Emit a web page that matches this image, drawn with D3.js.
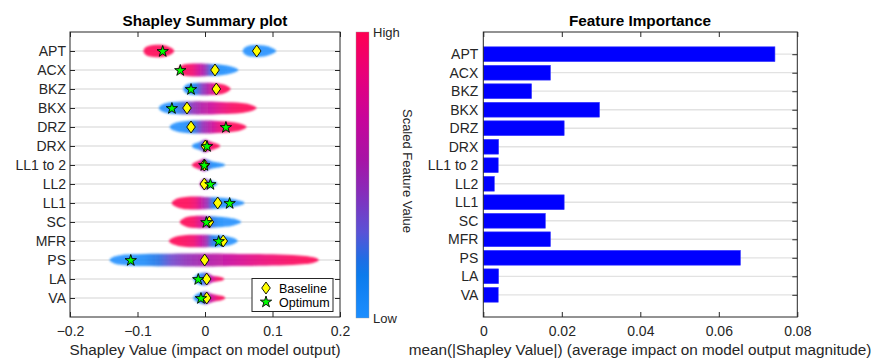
<!DOCTYPE html>
<html><head><meta charset="utf-8">
<script src="https://cdn.jsdelivr.net/npm/d3@7"></script>
<style>
body{margin:0;background:#fff;}
text{font-family:"Liberation Sans",Arial,sans-serif;}
</style></head>
<body><svg id="c" width="876" height="358"></svg>
<script>
// ---------- DATA ----------
const features = ["APT","ACX","BKZ","BKX","DRZ","DRX","LL1 to 2","LL2","LL1","SC","MFR","PS","LA","VA"];
const importance = [0.0743,0.0171,0.0123,0.0296,0.0206,0.0039,0.0038,0.0028,0.0206,0.0158,0.0171,0.0655,0.0039,0.0038];
const baseline = [0.0766,0.0148,0.0168,-0.0267,-0.0207,0.0005,-0.001,-0.001,0.0188,0.0064,0.027,-0.0005,0.0025,0.0025];
const optimum  = [-0.0627,-0.0366,-0.0207,-0.049,0.031,0.003,-0.001,0.008,0.0365,0.002,0.0203,-0.11,-0.01,-0.006];
const xTicksLeft = [-0.2,-0.1,0,0.1,0.2];
const xTicksRight = [0,0.02,0.04,0.06,0.08];
const legendLabels = ["Baseline","Optimum"];
const colorbarLabels = ["High","Low"];

// cloud outlines read from the beeswarm: [shap value, half thickness (rows), scaled feature value]
const cloudAPT = [
 [[-0.091,0.06,1],[-0.088,0.22,1],[-0.082,0.3,1],[-0.072,0.33,1],[-0.062,0.32,1],[-0.055,0.26,1],[-0.049,0.15,1],[-0.046,0.05,1]],
 [[0.056,0.05,0],[0.059,0.2,0],[0.066,0.3,0],[0.078,0.32,0],[0.09,0.28,0],[0.099,0.18,0],[0.105,0.05,0]]
];
const cloudACX = [[[-0.040,0.08,1],[-0.036,0.24,1],[-0.028,0.32,0.97],[-0.018,0.34,0.9],[-0.008,0.34,0.7],[0.0,0.33,0.5],[0.008,0.32,0.25],[0.016,0.3,0.06],[0.027,0.27,0.02],[0.038,0.2,0],[0.045,0.12,0],[0.049,0.04,0]]];
const cloudBKZ = [[[-0.032,0.07,0],[-0.029,0.22,0.02],[-0.022,0.3,0.05],[-0.014,0.32,0.15],[-0.005,0.33,0.4],[0.003,0.33,0.55],[0.012,0.32,0.8],[0.02,0.3,0.95],[0.028,0.24,1],[0.034,0.14,1],[0.0375,0.05,1]]];
const cloudBKX = [[[-0.068,0.06,0],[-0.064,0.2,0],[-0.056,0.28,0],[-0.045,0.32,0.05],[-0.032,0.34,0.25],[-0.018,0.35,0.45],[-0.004,0.35,0.6],[0.01,0.34,0.72],[0.025,0.32,0.85],[0.04,0.3,0.95],[0.055,0.26,1],[0.066,0.2,1],[0.072,0.12,1],[0.076,0.04,1]]];
const cloudDRZ = [[[-0.052,0.06,0],[-0.048,0.18,0],[-0.04,0.26,0],[-0.028,0.32,0.05],[-0.016,0.34,0.2],[-0.004,0.34,0.45],[0.008,0.34,0.65],[0.02,0.32,0.85],[0.032,0.3,0.95],[0.045,0.25,1],[0.055,0.16,1],[0.061,0.05,1]]];
const cloudDRX = [[[-0.019,0.05,0],[-0.016,0.14,0],[-0.01,0.18,0.05],[-0.004,0.28,0.3],[0,0.36,0.55],[0.004,0.3,0.75],[0.01,0.2,0.95],[0.016,0.15,1],[0.022,0.05,1]]];
const cloudLL12 = [[[-0.019,0.05,1],[-0.016,0.14,1],[-0.01,0.2,0.95],[-0.005,0.3,0.7],[-0.001,0.36,0.5],[0.004,0.28,0.25],[0.01,0.18,0.05],[0.02,0.14,0],[0.029,0.05,0]]];
const cloudLL2 = [[[-0.0075,0.05,0.7],[-0.005,0.2,0.6],[-0.001,0.3,0.5],[0.004,0.25,0.35],[0.009,0.16,0.15],[0.014,0.12,0.05],[0.018,0.04,0]]];
const cloudLL1 = [[[-0.049,0.06,1],[-0.045,0.18,1],[-0.038,0.28,1],[-0.026,0.34,1],[-0.014,0.35,0.9],[-0.004,0.33,0.65],[0.004,0.32,0.45],[0.012,0.3,0.15],[0.024,0.27,0.03],[0.036,0.24,0],[0.047,0.18,0],[0.054,0.1,0],[0.058,0.04,0]]];
const cloudSC = [[[-0.037,0.06,1],[-0.033,0.18,1],[-0.026,0.28,1],[-0.016,0.33,0.95],[-0.006,0.33,0.75],[0.002,0.32,0.5],[0.01,0.3,0.2],[0.02,0.28,0.03],[0.032,0.25,0],[0.043,0.18,0],[0.049,0.1,0],[0.053,0.04,0]]];
const cloudMFR = [[[-0.053,0.06,1],[-0.048,0.18,1],[-0.04,0.26,1],[-0.028,0.32,0.97],[-0.016,0.34,0.9],[-0.006,0.33,0.7],[0.002,0.33,0.5],[0.01,0.32,0.2],[0.02,0.3,0.05],[0.032,0.26,0],[0.042,0.18,0],[0.048,0.05,0]]];
const cloudPS = [[[-0.141,0.05,0],[-0.136,0.18,0],[-0.126,0.26,0],[-0.11,0.3,0],[-0.09,0.32,0.05],[-0.07,0.33,0.2],[-0.05,0.33,0.35],[-0.03,0.34,0.45],[-0.01,0.34,0.52],[0.01,0.34,0.6],[0.03,0.33,0.68],[0.05,0.32,0.75],[0.07,0.31,0.82],[0.09,0.3,0.88],[0.11,0.29,0.93],[0.13,0.27,0.97],[0.15,0.22,1],[0.162,0.14,1],[0.168,0.05,1]]];
const cloudLA = [[[-0.017,0.06,0],[-0.013,0.22,0],[-0.006,0.32,0.05],[0.001,0.36,0.3],[0.006,0.28,0.5],[0.01,0.18,0.7],[0.016,0.14,0.9],[0.023,0.12,1],[0.028,0.04,1]]];
const cloudVA = [[[-0.017,0.06,0],[-0.013,0.2,0],[-0.006,0.3,0.1],[0.001,0.36,0.35],[0.006,0.28,0.55],[0.011,0.2,0.75],[0.018,0.16,0.92],[0.025,0.12,1],[0.0296,0.04,1]]];
const clouds = [cloudAPT,cloudACX,cloudBKZ,cloudBKX,cloudDRZ,cloudDRX,cloudLL12,cloudLL2,cloudLL1,cloudSC,cloudMFR,cloudPS,cloudLA,cloudVA];

// ---------- SETUP ----------
const svg = d3.select("#c");
const defs = svg.append("defs");
const axisCol = "#262626";
const cmap = d3.scaleLinear()
  .domain([0,0.17,0.3,0.45,0.55,0.7,0.85,1])
  .range(["#1c8eff","#0a78ea","#5a52d6","#8a2ab8","#a614a6","#c8049a","#e8007a","#ff0052"])
  .interpolate(d3.interpolateRgb);

defs.append("filter").attr("id","soft").attr("x","-10%").attr("y","-50%").attr("width","120%").attr("height","200%")
  .append("feGaussianBlur").attr("stdDeviation",0.8);

// ---------- LEFT PLOT ----------
const xL = d3.scaleLinear().domain([-0.2,0.2]).range([70,340]);
const yL = d3.scaleLinear().domain([-1,14]).range([32,317]);
const stepL = yL(1)-yL(0);
const gL = svg.append("g");

gL.selectAll("line.grid").data(features).join("line")
  .attr("x1",xL(-0.2)).attr("x2",xL(0.2))
  .attr("y1",(d,i)=>yL(i)).attr("y2",(d,i)=>yL(i))
  .attr("stroke","#e2e2e2").attr("stroke-width",1.3);

const area = d3.area().curve(d3.curveBasis);
const gc = gL.append("g").attr("filter","url(#soft)");
clouds.forEach((blobs,i)=>{
  blobs.forEach((pts,j)=>{
    const id = "g"+i+"_"+j;
    const x1 = xL(pts[0][0]), x2 = xL(pts[pts.length-1][0]);
    const lg = defs.append("linearGradient").attr("id",id).attr("gradientUnits","userSpaceOnUse")
      .attr("x1",x1).attr("x2",x2).attr("y1",0).attr("y2",0);
    pts.forEach(p=>lg.append("stop").attr("offset",(xL(p[0])-x1)/(x2-x1)).attr("stop-color",cmap(p[2])));
    area.x(p=>xL(p[0])).y0(p=>yL(i)-p[1]*stepL).y1(p=>yL(i)+p[1]*stepL);
    gc.append("path").attr("d",area(pts)).attr("fill","url(#"+id+")").attr("fill-opacity",0.88);
  });
});

const diamond = "M0,-6L4.3,0L0,6L-4.3,0Z";
const star = d3.symbol().type(d3.symbolStar).size(40)();
gL.selectAll("path.bl").data(baseline).join("path")
  .attr("d",diamond).attr("transform",(d,i)=>`translate(${xL(d)},${yL(i)})`)
  .attr("fill","#ffff00").attr("stroke","#000").attr("stroke-width",0.9);
gL.selectAll("path.op").data(optimum).join("path")
  .attr("d",star).attr("transform",(d,i)=>`translate(${xL(d)},${yL(i)+0.5})`)
  .attr("fill","#00ff00").attr("stroke","#000").attr("stroke-width",0.9);

function styleAxis(g){
  g.select(".domain").remove();
  g.selectAll("line").attr("stroke",axisCol);
  g.selectAll("text").attr("fill",axisCol).attr("font-size",14).attr("font-family","Liberation Sans, Arial, sans-serif");
}
const fmtL = d=> d===0?"0":d3.format(".1f")(d);
gL.append("g").attr("transform","translate(0,317)")
  .call(d3.axisBottom(xL).tickValues(xTicksLeft).tickFormat(fmtL).tickSize(-5).tickSizeOuter(0).tickPadding(9)).call(styleAxis);
gL.append("g").attr("transform","translate(0,32)")
  .call(d3.axisTop(xL).tickValues(xTicksLeft).tickFormat("").tickSize(-5).tickSizeOuter(0)).call(styleAxis);
gL.append("g").attr("transform","translate(70,0)")
  .call(d3.axisLeft(yL).tickValues(d3.range(features.length)).tickFormat(i=>features[i]).tickSize(-5).tickSizeOuter(0).tickPadding(4)).call(styleAxis);
gL.append("g").attr("transform","translate(340,0)")
  .call(d3.axisRight(yL).tickValues(d3.range(features.length)).tickFormat("").tickSize(-5).tickSizeOuter(0)).call(styleAxis);
gL.append("rect").attr("x",70).attr("y",32).attr("width",270).attr("height",285)
  .attr("fill","none").attr("stroke",axisCol).attr("stroke-width",1);

svg.append("text").attr("x",205).attr("y",26).attr("text-anchor","middle").attr("font-size",15.3).attr("font-weight","bold").attr("fill","#000").text("Shapley Summary plot");
svg.append("text").attr("x",205).attr("y",355).attr("text-anchor","middle").attr("font-size",15.3).attr("fill",axisCol).text("Shapley Value (impact on model output)");

// legend
const lg = gL.append("g");
lg.append("rect").attr("x",252).attr("y",278.5).attr("width",81).attr("height",33).attr("fill","#fff").attr("stroke",axisCol).attr("stroke-width",1);
lg.append("path").attr("d",diamond).attr("transform","translate(266,288)").attr("fill","#ffff00").attr("stroke","#000").attr("stroke-width",0.9);
lg.append("path").attr("d",star).attr("transform","translate(266,302)").attr("fill","#00ff00").attr("stroke","#000").attr("stroke-width",0.9);
lg.selectAll("text").data(legendLabels).join("text").attr("x",279).attr("y",(d,i)=>292.5+i*14)
  .attr("font-size",12.5).attr("fill","#000").text(d=>d);

// colorbar
const cb = defs.append("linearGradient").attr("id","cbar").attr("x1",0).attr("x2",0).attr("y1",1).attr("y2",0);
d3.range(0,1.0001,0.05).forEach(t=>cb.append("stop").attr("offset",t).attr("stop-color",cmap(t)));
svg.append("rect").attr("x",356).attr("y",32).attr("width",13).attr("height",286).attr("fill","url(#cbar)").attr("stroke","#999").attr("stroke-width",0.4);
svg.append("text").attr("x",373).attr("y",37).attr("font-size",13).attr("fill",axisCol).text(colorbarLabels[0]);
svg.append("text").attr("x",373).attr("y",323).attr("font-size",13).attr("fill",axisCol).text(colorbarLabels[1]);
svg.append("text").attr("transform","translate(403,171) rotate(90)").attr("text-anchor","middle").attr("font-size",13).attr("fill",axisCol).text("Scaled Feature Value");

// ---------- RIGHT PLOT ----------
const xR = d3.scaleLinear().domain([0,0.08]).range([483.3,797.3]);
const yR = d3.scaleLinear().domain([-1.2,14.2]).range([32,317]);
const stepR = yR(1)-yR(0);
const gR = svg.append("g");
gR.selectAll("line.grid").data(features).join("line")
  .attr("x1",xR(0)).attr("x2",xR(0.08))
  .attr("y1",(d,i)=>yR(i)).attr("y2",(d,i)=>yR(i))
  .attr("stroke","#e2e2e2").attr("stroke-width",1.3);
gR.selectAll("rect.bar").data(importance).join("rect")
  .attr("x",xR(0)).attr("y",(d,i)=>yR(i)-0.4*stepR)
  .attr("width",d=>xR(d)-xR(0)).attr("height",0.8*stepR)
  .attr("fill","#0000ff").attr("stroke","#3a3aff").attr("stroke-width",0.6);
const fmtR = d=> d===0?"0":d3.format(".2f")(d);
gR.append("g").attr("transform","translate(0,317)")
  .call(d3.axisBottom(xR).tickValues(xTicksRight).tickFormat(fmtR).tickSize(-5).tickSizeOuter(0).tickPadding(9)).call(styleAxis);
gR.append("g").attr("transform","translate(0,32)")
  .call(d3.axisTop(xR).tickValues(xTicksRight).tickFormat("").tickSize(-5).tickSizeOuter(0)).call(styleAxis);
gR.append("g").attr("transform","translate(483.3,0)")
  .call(d3.axisLeft(yR).tickValues(d3.range(features.length)).tickFormat(i=>features[i]).tickSize(0).tickSizeOuter(0).tickPadding(5)).call(styleAxis);
gR.append("g").attr("transform","translate(797.3,0)")
  .call(d3.axisRight(yR).tickValues(d3.range(features.length)).tickFormat("").tickSize(-5).tickSizeOuter(0)).call(styleAxis);
gR.append("rect").attr("x",483.3).attr("y",32).attr("width",314).attr("height",285)
  .attr("fill","none").attr("stroke",axisCol).attr("stroke-width",1);
svg.append("text").attr("x",640).attr("y",26).attr("text-anchor","middle").attr("font-size",15.3).attr("font-weight","bold").attr("fill","#000").text("Feature Importance");
svg.append("text").attr("x",640).attr("y",355).attr("text-anchor","middle").attr("font-size",15.3).attr("fill",axisCol).text("mean(|Shapley Value|) (average impact on model output magnitude)");
</script></body></html>
